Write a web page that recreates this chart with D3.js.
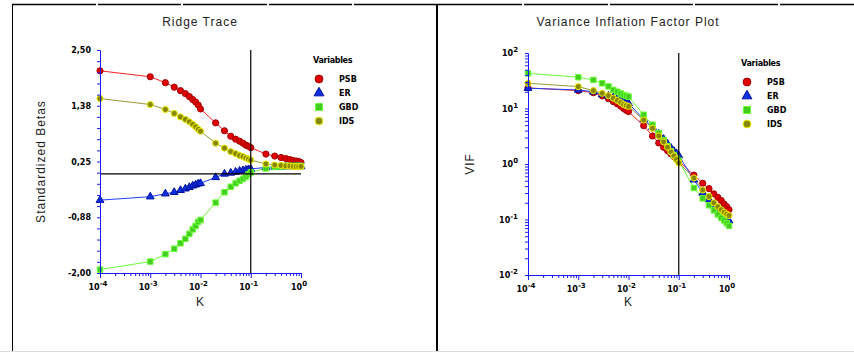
<!DOCTYPE html>
<html>
<head>
<meta charset="utf-8">
<script src="https://cdn.jsdelivr.net/npm/d3@7"></script>
<style>
  body { margin: 0; background: #fff; }
  svg { display: block; font-family: "Liberation Sans", Arial, sans-serif; }
  .title, .axis-label { font-size: 12px; letter-spacing: 1px; fill: #222; }
  .tick-label { font-family: "DejaVu Sans", sans-serif; font-weight: bold; font-size: 8px; fill: #000; }
  .legend-text { font-family: "DejaVu Sans", sans-serif; font-weight: bold; font-size: 8px; fill: #000; }
</style>
</head>
<body>
<div id="chart"></div>
<script>
// K values (K = 0 is drawn at 1e-4)
const kValues = [0.0001, 0.001, 0.002, 0.003, 0.004, 0.005, 0.006, 0.007, 0.008, 0.009, 0.01,
  0.02, 0.03, 0.04, 0.05, 0.06, 0.07, 0.08, 0.09, 0.1,
  0.2, 0.3, 0.4, 0.5, 0.6, 0.7, 0.8, 0.9, 1.0];

const variables = ["PSB", "ER", "GBD", "IDS"];

// Ridge trace: standardized betas
const betaPSB = [2.08, 1.96, 1.84, 1.75, 1.68, 1.62, 1.56, 1.50, 1.45, 1.39, 1.31,
  1.03, 0.87, 0.76, 0.70, 0.66, 0.62, 0.58, 0.56, 0.53,
  0.40, 0.36, 0.33, 0.31, 0.29, 0.27, 0.26, 0.25, 0.23];
const betaER = [-0.53, -0.46, -0.40, -0.37, -0.33, -0.30, -0.27, -0.24, -0.22, -0.20, -0.19,
  -0.07, 0.00, 0.02, 0.04, 0.06, 0.07, 0.08, 0.09, 0.10,
  0.13, 0.14, 0.14, 0.15, 0.15, 0.15, 0.15, 0.15, 0.15];
const betaGBD = [-1.93, -1.77, -1.62, -1.51, -1.40, -1.31, -1.21, -1.12, -1.05, -0.97, -0.93,
  -0.58, -0.37, -0.26, -0.19, -0.14, -0.10, -0.06, -0.01, 0.03,
  0.11, 0.14, 0.15, 0.16, 0.16, 0.16, 0.16, 0.16, 0.16];
const betaIDS = [1.52, 1.40, 1.30, 1.22, 1.15, 1.10, 1.05, 1.00, 0.95, 0.90, 0.86,
  0.62, 0.52, 0.45, 0.41, 0.37, 0.35, 0.32, 0.30, 0.28,
  0.20, 0.18, 0.17, 0.16, 0.16, 0.15, 0.15, 0.15, 0.15];

// Variance inflation factors
const vifPSB = [23.5, 21, 19.3, 16.9, 15, 13.3, 12.1, 11, 10, 9.3, 8.8,
  4.9, 3.2, 2.4, 2.0, 1.73, 1.52, 1.36, 1.24, 1.14,
  0.63, 0.45, 0.36, 0.29, 0.25, 0.22, 0.19, 0.17, 0.15];
const vifER = [23.2, 21.6, 20, 17.9, 16.8, 15.8, 15, 14.2, 13.5, 12.9, 12.4,
  6.4, 4.6, 3.5, 2.8, 2.3, 1.95, 1.7, 1.55, 1.42,
  0.52, 0.30, 0.23, 0.18, 0.15, 0.13, 0.115, 0.105, 0.095];
const vifGBD = [43, 36.6, 32.7, 28.5, 25, 21.6, 20, 18.6, 17.5, 16.9, 16.4,
  7.7, 5.1, 3.6, 2.7, 2.1, 1.7, 1.45, 1.28, 1.15,
  0.37, 0.24, 0.18, 0.146, 0.123, 0.107, 0.096, 0.086, 0.077];
const vifIDS = [28.5, 24.8, 21, 18.8, 17, 15.3, 14, 12.8, 11.8, 11.3, 10.9,
  6.2, 4.4, 3.2, 2.5, 2.0, 1.65, 1.4, 1.2, 1.05,
  0.56, 0.34, 0.26, 0.2, 0.17, 0.15, 0.135, 0.125, 0.118];

const betaTicks = [2.5, 1.375, 0.25, -0.875, -2.0];
const betaTickLabels = ["2,50", "1,38", "0,25", "-0,88", "-2,00"];
const kTicks = [-4, -3, -2, -1, 0];
const vifTicks = [2, 1, 0, -1, -2];

const styles = {
  PSB: { line: "#ff2020", fill: "#e00000", stroke: "#a00000", shape: d3.symbolCircle, size: 30 },
  ER:  { line: "#2040ff", fill: "#1030e0", stroke: "#0010a0", shape: d3.symbolTriangle, size: 26 },
  GBD: { line: "#66ff33", fill: "#44cc22", stroke: "#66ff33", shape: d3.symbolSquare, size: 30 },
  IDS: { line: "#999933", fill: "#888800", stroke: "#f0f000", shape: d3.symbolCircle, size: 30 }
};

const svg = d3.select("#chart").append("svg")
  .attr("width", 854)
  .attr("height", 352);

// frame
const notches = [97, 182, 268, 353, 523, 609, 694, 779];
svg.append("line").attr("x1", 12).attr("x2", 854).attr("y1", 4.5).attr("y2", 4.5)
  .attr("stroke", "#000").attr("stroke-width", 1.5);
notches.forEach(x => svg.append("rect").attr("x", x - 1).attr("y", 3).attr("width", 2).attr("height", 3).attr("fill", "#fff"));
svg.append("line").attr("x1", 12.5).attr("x2", 12.5).attr("y1", 4).attr("y2", 352).attr("stroke", "#000");
svg.append("line").attr("x1", 437).attr("x2", 437).attr("y1", 4).attr("y2", 352).attr("stroke", "#000").attr("stroke-width", 2);
svg.append("line").attr("x1", 0).attr("x2", 854).attr("y1", 351.5).attr("y2", 351.5).attr("stroke", "#ddd");

function powLabel(sel, exp) {
  sel.append("tspan").text("10");
  sel.append("tspan").attr("dy", -4).attr("font-size", 7).text(exp);
}

function drawPanel(cfg) {
  const g = svg.append("g");
  const x = d3.scaleLog().domain([1e-4, 1]).range([cfg.x0, cfg.x1]);
  const y = cfg.y;

  g.append("text").attr("class", "title")
    .attr("x", cfg.titleX).attr("y", 26).attr("text-anchor", "middle").text(cfg.title);

  // series lines and markers
  const series = cfg.series;
  const line = d3.line().x((d, i) => x(kValues[i])).y(d => y(d));
  variables.forEach(v => {
    g.append("path").datum(series[v]).attr("d", line)
      .attr("fill", "none").attr("stroke", styles[v].line).attr("stroke-width", 1);
  });
  variables.forEach(v => {
    const s = styles[v];
    g.selectAll(null).data(series[v]).enter().append("path")
      .attr("d", d3.symbol().type(s.shape).size(s.size))
      .attr("transform", (d, i) => `translate(${x(kValues[i])},${y(d)})`)
      .attr("fill", s.fill).attr("stroke", s.stroke).attr("stroke-width", 1);
  });

  // reference lines
  g.append("line").attr("x1", x(0.1)).attr("x2", x(0.1))
    .attr("y1", cfg.yTop).attr("y2", cfg.yBot).attr("stroke", "#000").attr("stroke-width", 1.2);
  if (cfg.zeroLine) {
    g.append("line").attr("x1", cfg.x0).attr("x2", cfg.x1)
      .attr("y1", y(0)).attr("y2", y(0)).attr("stroke", "#000").attr("stroke-width", 1.2);
  }

  // x axis
  const blue = "#1a1aff";
  const xa = g.append("g").attr("transform", `translate(0,${cfg.yBot})`)
    .call(d3.axisBottom(x).tickValues(d3.range(-4, 0).flatMap(e => d3.range(1, 10).map(m => m * Math.pow(10, e))).concat([1]))
      .tickSize(3).tickFormat(""));
  xa.select(".domain").attr("stroke", blue);
  xa.selectAll(".tick line").attr("stroke", blue)
    .attr("y2", d => Math.abs(Math.log10(d) - Math.round(Math.log10(d))) < 1e-6 ? 5 : 3);
  kTicks.forEach(e => {
    const t = g.append("text").attr("class", "tick-label")
      .attr("x", x(Math.pow(10, e)) - 2).attr("y", cfg.yBot + 17).attr("text-anchor", "middle");
    powLabel(t, String(e));
  });
  g.append("text").attr("class", "axis-label")
    .attr("x", (cfg.x0 + cfg.x1) / 2).attr("y", 306).attr("text-anchor", "middle").text("K");

  // y axis
  const ya = g.append("g").attr("transform", `translate(${cfg.x0},0)`)
    .call(d3.axisLeft(y).tickValues(cfg.yTickValues).tickSize(3).tickFormat(""));
  ya.select(".domain").attr("stroke", blue);
  ya.selectAll(".tick line").attr("stroke", blue);
  cfg.yLabels(g);

  g.append("text").attr("class", "axis-label")
    .attr("transform", `translate(${cfg.yTitleX},${(cfg.yTop + cfg.yBot) / 2}) rotate(-90)`)
    .attr("text-anchor", "middle").text(cfg.yTitle);

  // legend
  g.append("text").attr("class", "legend-text").attr("x", cfg.legX - 6).attr("y", cfg.legY - 16)
    .attr("letter-spacing", -0.3).text("Variables");
  variables.forEach((v, i) => {
    const s = styles[v];
    const yy = cfg.legY + i * 14;
    g.append("path").attr("d", d3.symbol().type(s.shape).size(s.size * 1.6))
      .attr("transform", `translate(${cfg.legX},${yy})`)
      .attr("fill", s.fill).attr("stroke", s.stroke).attr("stroke-width", 1);
    g.append("text").attr("class", "legend-text").attr("x", cfg.legX + 20).attr("y", yy + 3).text(v);
  });
}

// Ridge trace
const yBeta = d3.scaleLinear().domain([-2, 2.5]).range([273, 50]);
drawPanel({
  title: "Ridge Trace", titleX: 200,
  x0: 100, x1: 301, yTop: 50, yBot: 273, y: yBeta,
  zeroLine: true,
  series: { PSB: betaPSB, ER: betaER, GBD: betaGBD, IDS: betaIDS },
  yTickValues: d3.range(0, 21).map(i => -2 + i * 0.225),
  yLabels: g => betaTicks.forEach((t, i) => {
    g.append("text").attr("class", "tick-label").attr("x", 91).attr("y", yBeta(t) + 3)
      .attr("text-anchor", "end").text(betaTickLabels[i]);
  }),
  yTitle: "Standardized Betas", yTitleX: 45,
  legX: 319, legY: 79
});

// VIF plot
const yVif = d3.scaleLog().domain([0.01, 100]).range([275, 53]);
drawPanel({
  title: "Variance Inflation Factor Plot", titleX: 628,
  x0: 528, x1: 729, yTop: 53, yBot: 275, y: yVif,
  zeroLine: false,
  series: { PSB: vifPSB, ER: vifER, GBD: vifGBD, IDS: vifIDS },
  yTickValues: d3.range(-2, 2).flatMap(e => d3.range(1, 10).map(m => m * Math.pow(10, e))).concat([100]),
  yLabels: g => vifTicks.forEach(e => {
    const t = g.append("text").attr("class", "tick-label").attr("x", 518).attr("y", yVif(Math.pow(10, e)) + 3)
      .attr("text-anchor", "end");
    powLabel(t, String(e));
  }),
  yTitle: "VIF", yTitleX: 474,
  legX: 747, legY: 82
});
</script>
</body>
</html>
